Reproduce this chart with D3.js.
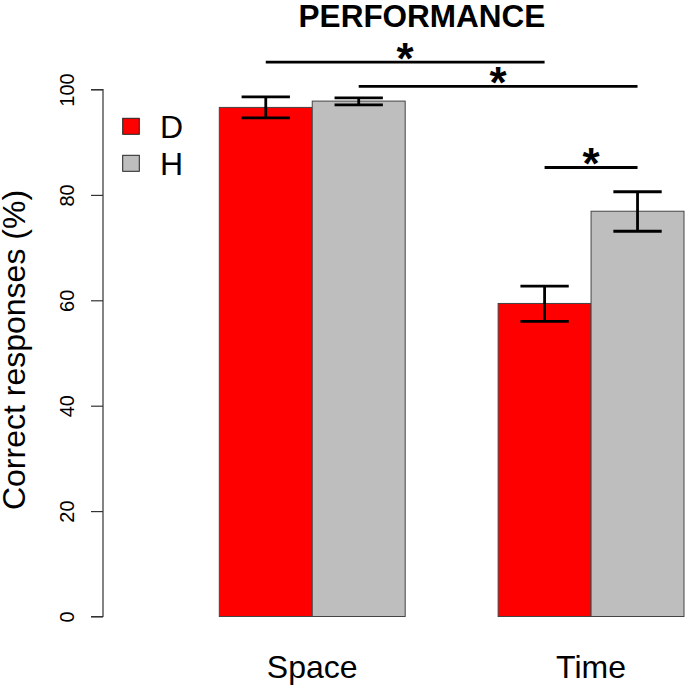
<!DOCTYPE html>
<html><head><meta charset="utf-8">
<script src="https://cdn.jsdelivr.net/npm/d3@7"></script>
<style>body{margin:0;background:#fff}svg{display:block}text{font-family:"Liberation Sans",Arial,sans-serif}</style>
</head><body>
<script>
const categories = ["Space", "Time"];
const seriesNames = ["D", "H"];
const seriesColors = ["#ff0000", "#bebebe"];
const meansD = [96.6, 59.4];
const meansH = [97.8, 76.9];
const lowD = [94.6, 56.0];
const highD = [98.6, 62.7];
const lowH = [97.1, 73.1];
const highH = [98.4, 80.6];
const yTicks = [0, 20, 40, 60, 80, 100];
// significance brackets: [from bar index, to bar index, y value]
const sigFrom = [0, 1, 2];
const sigTo = [2, 3, 3];
const sigY = [105.2, 100.6, 85.2];

const W = 685, H = 687;
const svg = d3.select("body").append("svg").attr("width", W).attr("height", H);

const y = d3.scaleLinear().domain([0, 100]).range([616.5, 89.5]);
// bar units: bars at [1,2],[2,3],[4,5],[5,6]
const x = d3.scaleLinear().domain([1, 6]).range([219.3, 684]);

const bars = [];
categories.forEach((c, gi) => {
  [[meansD, lowD, highD], [meansH, lowH, highH]].forEach((s, si) => {
    const start = 1 + gi * 3 + si;
    bars.push({cat: c, si, start, v: s[0][gi], lo: s[1][gi], hi: s[2][gi]});
  });
});

// bars
svg.append("g").selectAll("rect").data(bars).join("rect")
  .attr("x", d => x(d.start)).attr("width", d => x(d.start + 1) - x(d.start))
  .attr("y", d => y(d.v)).attr("height", d => y(0) - y(d.v))
  .attr("fill", d => seriesColors[d.si]).attr("stroke", "#444").attr("stroke-width", 1);

// error bars
const eb = svg.append("g").attr("stroke", "#000").attr("stroke-width", 2.8);
const capHalf = 0.26;
bars.forEach(d => {
  const cx = x(d.start + 0.5);
  eb.append("line").attr("x1", cx).attr("x2", cx).attr("y1", y(d.lo)).attr("y2", y(d.hi));
  [d.lo, d.hi].forEach(v => eb.append("line")
    .attr("x1", x(d.start + 0.5 - capHalf)).attr("x2", x(d.start + 0.5 + capHalf))
    .attr("y1", y(v)).attr("y2", y(v)));
});

// y axis
const axis = d3.axisLeft(y).tickValues(yTicks).tickSize(12).tickPadding(0).tickFormat(d3.format("d"));
const ga = svg.append("g").attr("transform", "translate(103,0)").call(axis);
ga.attr("font-family", '"Liberation Sans",Arial,sans-serif');
ga.select(".domain").attr("d", `M-12,${y(0)}H0V${y(100)}H-12`).attr("stroke", "#333").attr("stroke-width", 1.2);
ga.selectAll(".tick line").attr("stroke", "#333").attr("stroke-width", 1.2);
ga.selectAll(".tick text").remove();
ga.selectAll(".tick").append("text")
  .attr("transform", "translate(-29.5,0) rotate(-90)")
  .attr("text-anchor", "middle").attr("fill", "#000")
  .style("font-size", "20px")
  .text(d => d3.format("d")(d));

// y label
svg.append("text").attr("transform", `translate(25,${y(50) - 3}) rotate(-90)`)
  .attr("text-anchor", "middle").attr("font-size", 32).text("Correct responses (%)");

// category labels
categories.forEach((c, gi) => {
  svg.append("text").attr("x", x(2 + gi * 3)).attr("y", 678)
    .attr("text-anchor", "middle").attr("font-size", 32).text(c);
});

// title
svg.append("text").attr("x", 422).attr("y", 26.5).attr("text-anchor", "middle")
  .attr("font-size", 31.5).attr("font-weight", "bold").text("PERFORMANCE");

// legend
seriesNames.forEach((n, i) => {
  const yy = 118.3 + i * 37;
  svg.append("rect").attr("x", 122.7).attr("y", yy).attr("width", 16.6).attr("height", 16)
    .attr("fill", seriesColors[i]).attr("stroke", "#222").attr("stroke-width", 1);
  svg.append("text").attr("x", 160).attr("y", yy + 19.5).attr("font-size", 32).text(n);
});

// significance
const sg = svg.append("g");
sigFrom.forEach((f, i) => {
  const b1 = bars[f], b2 = bars[sigTo[i]];
  const x1 = x(b1.start + 0.5), x2 = x(b2.start + 0.5);
  sg.append("line").attr("x1", x1).attr("x2", x2).attr("y1", y(sigY[i])).attr("y2", y(sigY[i]))
    .attr("stroke", "#000").attr("stroke-width", 2.8);
  sg.append("text").attr("x", (x1 + x2) / 2).attr("y", y(sigY[i]) + 12)
    .attr("text-anchor", "middle").attr("font-size", 44).attr("font-weight", "bold").text("*");
});
</script>
</body></html>
